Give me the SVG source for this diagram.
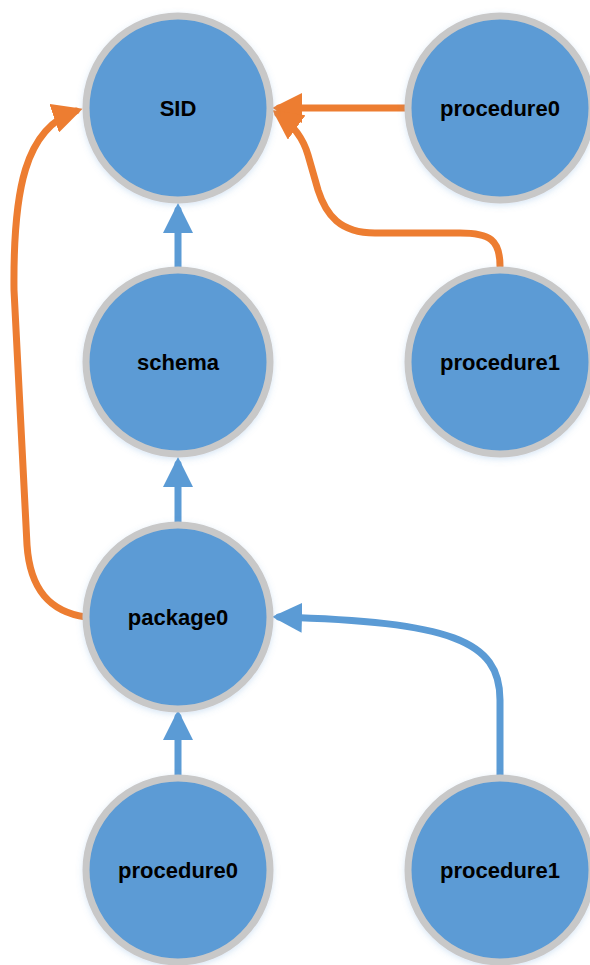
<svg xmlns="http://www.w3.org/2000/svg" width="590" height="965" viewBox="0 0 590 965">
  <style>
    .node circle { fill: #5B9BD5; stroke: #C8C8C8; stroke-width: 7; filter: url(#glow); }
    .node text { font-family: "Liberation Sans", Arial, sans-serif; font-weight: bold; font-size: 22px; fill: #000; text-anchor: middle; }
    .edge { fill: none; stroke-width: 7; stroke-linecap: round; }
    .blue { stroke: #5B9BD5; }
    .orange { stroke: #ED7D31; }
  </style>
  <defs>
    <filter id="glow" x="-20%" y="-20%" width="140%" height="140%">
      <feDropShadow dx="0" dy="2" stdDeviation="3" flood-color="#5B9BD5" flood-opacity="0.25"/>
    </filter>
    <marker id="arrowBlue" markerUnits="userSpaceOnUse" markerWidth="30" markerHeight="30" refX="23" refY="15" orient="auto" viewBox="0 0 30 30">
      <path d="M0,0 L30,15 L0,30 Z" fill="#5B9BD5"/>
    </marker>
    <marker id="arrowOrange" markerUnits="userSpaceOnUse" markerWidth="30" markerHeight="30" refX="23" refY="15" orient="auto" viewBox="0 0 30 30">
      <path d="M0,0 L30,15 L0,30 Z" fill="#ED7D31"/>
    </marker>
  </defs>

  <rect width="590" height="965" fill="#FFFFFF"/>

  <g id="connectors">
    <!-- dependency chain -->
    <path class="edge blue" d="M178,267 L178,210" marker-end="url(#arrowBlue)"/>
    <path class="edge blue" d="M178,522 L178,464" marker-end="url(#arrowBlue)"/>
    <path class="edge blue" d="M178,775 L178,717" marker-end="url(#arrowBlue)"/>
    <path class="edge blue" d="M500,776 L500,700 C500,640 450,622 279,617" marker-end="url(#arrowBlue)"/>
    <!-- references to SID -->
    <path class="edge orange" d="M410,108 L279,108" marker-end="url(#arrowOrange)"/>
    <path class="edge orange" d="M500,266 C500,240 490,233 460,233 L375,233 C340,233 326,215 318,190 L308,155 C304,141 296,127 278,114" marker-end="url(#arrowOrange)"/>
    <path class="edge orange" d="M86,617 C50,612 30,590 27,545 L14,290 C13,190 25,128 76,111" marker-end="url(#arrowOrange)"/>
  </g>

  <g id="node-sid" class="node">
    <circle cx="178" cy="108" r="92"/>
    <text x="178" y="116">SID</text>
  </g>
  <g id="node-procedure0-top" class="node">
    <circle cx="500" cy="108" r="92"/>
    <text x="500" y="116">procedure0</text>
  </g>
  <g id="node-schema" class="node">
    <circle cx="178" cy="362" r="92"/>
    <text x="178" y="370">schema</text>
  </g>
  <g id="node-procedure1-mid" class="node">
    <circle cx="500" cy="362" r="92"/>
    <text x="500" y="370">procedure1</text>
  </g>
  <g id="node-package0" class="node">
    <circle cx="178" cy="617" r="92"/>
    <text x="178" y="625">package0</text>
  </g>
  <g id="node-procedure0-bottom" class="node">
    <circle cx="178" cy="870" r="92"/>
    <text x="178" y="878">procedure0</text>
  </g>
  <g id="node-procedure1-bottom" class="node">
    <circle cx="500" cy="870" r="92"/>
    <text x="500" y="878">procedure1</text>
  </g>
</svg>
